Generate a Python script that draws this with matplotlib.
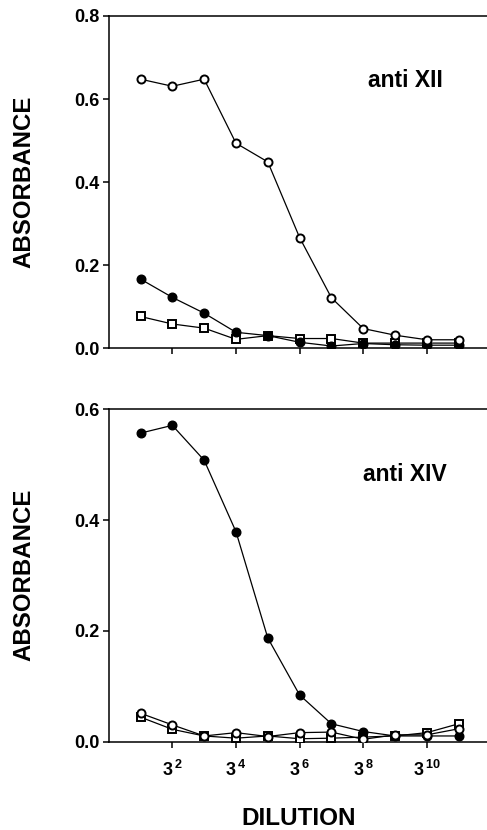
import matplotlib
matplotlib.use("Agg")
import matplotlib.pyplot as plt

plt.rcParams['font.family'] = ['Liberation Sans', 'DejaVu Sans']
plt.rcParams['font.weight'] = 'bold'
plt.rcParams['mathtext.fontset'] = 'custom'
plt.rcParams['mathtext.rm'] = 'Liberation Sans:bold'
plt.rcParams['mathtext.bf'] = 'Liberation Sans:bold'
plt.rcParams['mathtext.it'] = 'Liberation Sans:bold'

# Dilution exponent (3^n)
dilution_exp = [1, 2, 3, 4, 5, 6, 7, 8, 9, 10, 11]
xtick_exps = [2, 4, 6, 8, 10]
xtick_labels = [r'$\mathbf{3^{\,%d}}$' % e for e in xtick_exps]

# Panel 1: anti XII
xii_open_circle = [0.648, 0.631, 0.648, 0.494, 0.449, 0.267, 0.122, 0.048, 0.032, 0.021, 0.021]
xii_filled_circle = [0.167, 0.123, 0.085, 0.039, 0.031, 0.015, 0.006, 0.012, 0.009, 0.008, 0.008]
xii_open_square = [0.077, 0.059, 0.049, 0.022, 0.031, 0.024, 0.024, 0.013, 0.013, 0.013, 0.013]

# Panel 2: anti XIV
xiv_filled_circle = [0.557, 0.571, 0.508, 0.379, 0.187, 0.084, 0.032, 0.018, 0.010, 0.010, 0.010]
xiv_open_circle = [0.051, 0.030, 0.010, 0.016, 0.009, 0.016, 0.017, 0.004, 0.012, 0.012, 0.023]
xiv_open_square = [0.044, 0.022, 0.010, 0.006, 0.010, 0.005, 0.006, 0.008, 0.010, 0.016, 0.032]

W, H = 487, 830
fig = plt.figure(figsize=(W / 100, H / 100), dpi=100)

def px_axes(left, right, y0, ytop):
    return fig.add_axes([left / W, 1 - y0 / H, (right - left) / W, (y0 - ytop) / H])

ax1 = px_axes(108.7, 490.5, 348.5, 16.0)
ax2 = px_axes(108.7, 490.5, 741.5, 409.3)

def draw(ax, open_c, filled_c, open_s, ymax, yticks, label):
    lw = 0.9
    ax.plot(dilution_exp, open_s, color='black', lw=lw, marker='s', ms=5.3,
            mfc='white', mec='black', mew=1.4, zorder=3)
    ax.plot(dilution_exp, filled_c, color='black', lw=lw, marker='o', ms=6.2,
            mfc='black', mec='black', mew=1.0, zorder=4)
    ax.plot(dilution_exp, open_c, color='black', lw=lw, marker='o', ms=5.8,
            mfc='white', mec='black', mew=1.4, zorder=5)
    ax.set_xlim(0, 12)
    ax.set_ylim(0, ymax)
    ax.set_yticks(yticks)
    ax.set_yticklabels(['%.1f' % v for v in yticks])
    ax.set_xticks(xtick_exps)
    ax.spines['right'].set_visible(False)
    for s in ['left', 'bottom', 'top']:
        ax.spines[s].set_linewidth(1.1)
    ax.tick_params(axis='both', direction='out', length=4.5, width=1.1,
                   labelsize=13)
    ax.tick_params(axis='y', pad=2)
    ax.text(0.776, 0.805, label, transform=ax.transAxes, ha='center',
            va='center', fontsize=16.5, fontweight='bold')
    ax.set_facecolor('white')

draw(ax1, xii_open_circle, xii_filled_circle, xii_open_square, 0.8,
     [0.0, 0.2, 0.4, 0.6, 0.8], 'anti XII')
ax1.set_xticklabels([])

draw(ax2, xiv_open_circle, xiv_filled_circle, xiv_open_square, 0.6,
     [0.0, 0.2, 0.4, 0.6], 'anti XIV')
ax2.set_xticklabels(xtick_labels)
ax2.tick_params(axis='x', pad=9, labelsize=13)

fig.text(24 / W, 1 - 182 / H, 'ABSORBANCE', rotation=90, ha='center',
         va='center', fontsize=17.3, fontweight='bold')
fig.text(24 / W, 1 - 575 / H, 'ABSORBANCE', rotation=90, ha='center',
         va='center', fontsize=17.3, fontweight='bold')
fig.text(299 / W, 1 - 818 / H, 'DILUTION', ha='center', va='center',
         fontsize=17.5, fontweight='bold')

fig.savefig('out.png', dpi=100)
